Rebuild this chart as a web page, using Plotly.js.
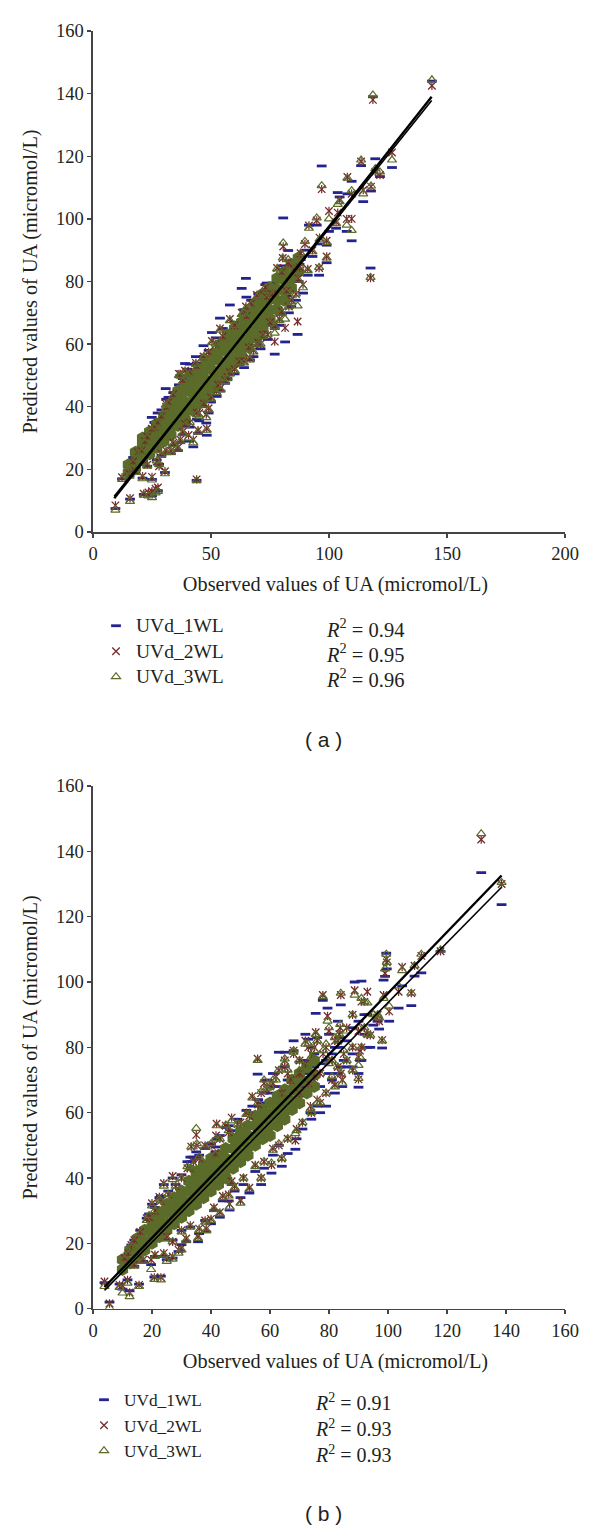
<!DOCTYPE html>
<html><head><meta charset="utf-8">
<script src="https://cdn.plot.ly/plotly-3.0.1.min.js"></script>
<style>html,body{margin:0;padding:0;background:#fff}#c{width:600px;height:1529px}
.legendtext{font-size:19.5px !important}
.xtitle,.x2title{transform:translateX(6.5px)}
</style>
</head><body><div id="c"></div>
<script>
// Panel (a): observed value and predictions of each model
const obsA=[9.5,15.7,21.5,23.5,25,26.5,27.5,43.9,12.3,15.5,
21,25,30.5,28,27,33,36,37,38,40.5,
42.5,44.5,48.2,48,45,49,52.4,53,56,58,
62,66.5,66,70,72,77,81.4,86.7,75,80,
84,82,89,87,95.8,91,99,93,99,96,
109.6,107.5,103,100,94.8,91.5,96.9,103.7,104.5,107.8,
109.6,114.5,117.8,113.6,119.6,121.6,126.7,117.6,118.6,143.6,
80.6,82.7,87.5,85,64.8,63,65,69.4,73.6,76,
80,78,80.4,89.8,88,58,53.8,50.4,46.8,43.6,
41,39,37,36.4,30.8,31,27.4,24.9,22,20.6,17,
19,23,26,29,32,34,38,40,44,47,49,52,55,60,64,67,70,73,
18,23,29,31,34,39,41,44,47,50,54,57,60,64,68,71,74,77,79,83,86];
const uv1A=[7.5,10.5,12,12,11.5,13,13.2,16.5,17,18,
17.2,16.8,19,21.6,23,25,26,28.5,31,29,
27.2,31.5,30.9,34.8,35.5,38,43.3,46,47.5,50.2,
53.5,55,58,59.5,62,56.8,60.7,63.1,66,69.5,
72,75.5,76.3,80,82,82,86,88,91.6,92,
93,96,97,96,98,98,116.9,108.4,107,108,
112,105.5,108.9,117,119.2,113.5,116.4,84.3,139,144,
100.3,89.9,85.5,80,81,77.8,75,73,79.5,79.5,
80,81,85,90,87,72.5,68.3,63.7,59.5,56,
53.6,53.8,50,47,45.8,42.4,38,36.6,30.1,27.2,23.8,
26,31,35,39,43,44.5,49,52,54,56,58,62,65,67,71,74,76,79,
19,21,24.5,25,27.5,34,33.5,36,40,41.5,45,49,50.5,52.5,56,58.5,61.5,65,66,70,74];
const uv2A=[8.5,10.8,12.2,12.6,13,13.8,14.2,16.8,17.5,18.6,
17.8,17.6,19.4,21,22.5,26,27,29.5,32,31,
29.5,32.5,33,37.5,38,39.5,45,47,48.5,51,
54.5,55.5,59,60.5,63,60.8,65.2,67.2,67,70.5,
74,77,79,81,84.3,84,88,90,93,94,
100,100,99,102.5,99.5,97.9,109.5,102,106,113.4,
108,109.2,110.3,118.3,115,114,121.2,81.1,138,142.5,
91.2,86,84.5,84,72,70,69,75.7,75,76,
83,84.3,87.5,92,89,68,65,61,56,54,
51,51.5,50.5,50.5,41,40,35,33,29,26,22.5,
25.5,30.5,33.5,37,41.5,44,48.5,50.5,53,56,57.5,60,62.5,66,70,73,75.5,78,
19.5,21.5,25,26,28.5,34.5,35,38,41,43,46,49.5,52,54.5,58,60,63,66,68,72,76];
const uv3A=[7,9.8,11.8,11.5,11,12.5,13,16.4,16.8,17.8,
17,16.6,18.6,21.5,22.7,25.5,26.5,29,31.5,30,
28.5,32,32.5,36.5,37,39,44.5,46.5,48,50.5,
54,55,58.5,60,62.5,63.5,68,72.2,66.5,70,
73.5,76.5,78,80.5,84.5,83.5,87.5,89.5,92.5,93.5,
96.3,98,98.5,100,100.3,97,110.6,104.6,105.5,113,
109,108,110.5,118.8,116,115,118.8,81.3,139.6,144.4,
92.3,87,85,83.5,71.5,69.5,68.5,75,74.5,75.5,
82.5,84,87.5,92.8,89,67.5,64.5,60.5,55.5,53.5,
50.5,51,49.8,50,40.5,39.5,34.8,32.5,28.5,25.5,22,
25,30,33.5,36.5,41,43.5,48,50,52.5,56,57,60,62,66,70,72.5,75.5,78,
19,21,24.5,25.5,28,34,35,37.5,40.5,42.5,45.5,49,51.5,54,57.5,60,63,65.5,67.5,72,76];
// Panel (a): heavily overplotted olive core of the cloud
const coreObsA=[15,15,18,18,18,21,21,21,21,24,24,24,24,27,27,27,27,30,30,30,30,
33,33,33,33,33,36,36,36,36,36,39,39,39,39,39,42,42,42,42,42,45,45,45,45,45,
48,48,48,48,48,51,51,51,51,51,54,54,54,54,54,57,57,57,57,57,60,60,60,60,60,
63,63,63,63,63,66,66,66,66,66,69,69,69,69,69,72,72,72,72,72,75,75,75,75,
78,78,78,78,81,81,81,81,84,84,84,87,87];
const corePredA=[19,21.5,20.5,22.5,25.5,23,25,28,30,25,27,30,32,27,29.5,32,34.5,29,31.5,34.5,37,
31,33.5,36,39,41,34,36.5,39.5,43,45,36,38.5,41.5,45,47,39,41.5,44.5,48,50,41,43.5,46.5,50,52,
43,45.5,48.5,52,54,46,48.5,51.5,55,57,49,51.5,54.5,58,60,52,54.5,57.5,61,63,54,56.5,59.5,63,65,
56,58.5,61.5,65,67,59,61.5,64.5,68,70,62,64.5,67.5,71,73,65,67.5,70.5,74,76,68,71,74.5,78,
71,74,77.5,81,74,77,80.5,83,78,81,85.5,83,87.5];
const fitObsA=[9,143.5];
const fitThickA=[10.8,139];
const fitThinA=[11.4,137.8];

// Panel (b)
const obsB=[5.6,3.9,9,10,11.7,12.4,15.6,20.8,23,19.7,
25,27,29,30,10.7,13,12,18.2,20,24,
27,22.5,33.3,35,35.2,41.9,45,33,34,41.7,
41.5,47,50,52,55.8,58,57,54,57,60.5,
64,68.6,73.7,76,82,84.5,90,46.3,50,53,
38.4,35.6,31.6,25,40,43,46,48,131.6,138.5,
117.8,111.3,104.8,109,99.4,99.6,99,98.5,107.9,103.6,
100.4,77.9,84,88.7,91,93,79.5,75.5,72,68,
65,74,98,94,97,95,90,90.5,83.5,83.8,
88,92,96.5,85,80,78,70,72,75,66,62,60,
14,16,19,21,23,25.5,28,30,32,36,38,40,43,46,49,53,56,59,61,63,65,68,70,73,76,
14,17,21,24,27,30,33,36,38,41,44,47,51,55,58,61,63,66,69,71,74,77,79,81,83,86,88,91,93,
64,67,70,73,75,77,79,81,82,84,86,88,80,83,92,90];
const uv1B=[2,8,7.5,6,8.8,5.5,7.5,9.7,10,13.5,
15,15.5,17.5,19.6,15.5,19.5,17,27.7,32,38,
40,34,45,48,46,52,55.5,46.4,46.4,49.5,
48,54.5,55,60.7,71.8,66,63,62,38,41.5,
43.6,48.8,60,62,66,68,67.8,30.2,34,35.4,
23.5,20.5,20.5,21,26,28,33,36,133.5,123.7,
109.4,102.8,98.8,101.8,108.8,104,101.7,100.6,92.8,92,
88,94.4,93,100,100.3,90,92,90.4,84,82,
78.5,80,79.8,80,85.6,86.8,72,76,80,83,
86,90,88,76,72,75,68,76,78,70,68,66,
21,24,29,31,34.5,36,38,41,45,47,49,50.5,53,56,58,60,64,70,72,78.5,74,79,75.5,82.5,83,
13,14.5,16,16,21,24,25,23,27,30,33,38,38,42,43,47,50,47.5,52,55,58,60,62,70,72,74,78,76,80,
62,66,70,72,74,68,76,78,80,74,82,74,84,88,84,88];
const uv2B=[1.6,8.3,7.3,7,8.8,5,7.3,9.6,9.6,15,
15.5,16,18,18.5,15.5,19.5,17,27.7,32.3,38.4,
40.6,34.2,49.6,53.2,50,56.6,56,43,45,53,
47.5,58.5,57,60,76.5,69,66,65,40,44,
46,51.5,62,64,68.5,70,70.2,32,33,37,
24.5,22,21.5,22,27.5,29.5,35,37.5,143.6,130,
109.4,108,104.6,105,107,106,102.7,96,96.6,97,
91,96,96,97.5,94,97,89.6,84.6,82,78,
74,78,82.2,83.7,88,89,77,79,84,86,
90,94,90,78,76,78,72,75,80,72,71,68,
21,23.5,28,30,33,35,37.5,40,43,46,50,50,52,54,56.5,59,62.5,67,69,73,76,79,76,80,82,
13.5,15,16.5,17,20.5,24,25.5,24.5,27,31,34.5,39,40,44,45,49,50,52,55,57,60,63,66,70,74,76,80,80,84,
66,70,66,69,71,72,80,76,82,72,86,73,85,82,86,85];
const uv3B=[0.3,6.8,6.5,4.8,7.8,3.7,6.8,9,8.8,12,
14.5,15.2,17,18,15,18.5,16.5,27,31.5,37.5,
39.5,33.5,49.5,55.2,50.5,56,56.2,43,44,52,
47,57.5,56,59.5,76,70,66.5,64.5,40,44.6,
46,53.6,61,63,67.9,69,70.5,31,32.3,36.5,
24,21.5,21,21.5,27,29,34.5,37,145.4,130.5,
109.8,108.5,103.5,105,108.5,106,104,95,96.6,98.8,
92.6,95.5,96.6,96,95,93.6,88,84,81,79,
75,77,82,83.7,89,90,74.5,77,84,87,
90,94,90,79,75,79,73,74,79,73,70,68,
20.5,23,28.5,30,33,35,37.5,40,43.5,46.5,49.5,50.5,52,54.5,56.5,59.5,63,67.5,70,73,76.5,78.5,76,81,82,
13,14.5,16,16.5,20.5,23.5,25,24,26.5,30.5,34,38.5,40,43.5,45,48.5,50.5,52,54.5,57,60,63,66,71,74,76,80,80,84,
65,70,66,69,71,72,81,76,83,72,85,73,86,82,86,86];
const coreObsB=[10,10,12.5,12.5,15,15,15,17.5,17.5,17.5,20,20,20,20,22.5,22.5,22.5,22.5,25,25,25,25,27.5,27.5,27.5,27.5,
30,30,30,30,32.5,32.5,32.5,32.5,35,35,35,35,35,37.5,37.5,37.5,37.5,37.5,40,40,40,40,40,42.5,42.5,42.5,42.5,42.5,
45,45,45,45,47.5,47.5,47.5,47.5,50,50,50,50,52.5,52.5,52.5,52.5,55,55,55,55,57.5,57.5,57.5,57.5,
60,60,60,60,62.5,62.5,62.5,62.5,65,65,65,65,67.5,67.5,67.5,67.5,70,70,70,70,72.5,72.5,72.5,75,75,75];
const corePredB=[12,15,14,18,15.5,18.5,21.5,18,20.5,24,20,22,25,27.5,22,24,27,29.5,24,26,29.5,32,26,28.5,31.5,34,
28,30.5,33.5,36,30,32.5,36,39,32,34.5,37.5,40,42,34,36.5,39.5,42,44,36,38.5,41.5,44,46,38,40,43,45.5,47,
40,42.5,46,49,43,45.5,49,52,45,47.5,51,54,47,49.5,53,56,50,52.5,56,59,52,54.5,58,61,
53,56,59.5,63,56,58.5,62,65,58,60.5,64,67,61,63.5,67,70,63,66,69.5,72,66,69.5,74,68,71.5,76];
const fitObsB=[3.9,138.5];
const fitThickB=[6.6,132.6];
const fitThinB=[5.6,129];

const seriesNames=['UVd_1WL','UVd_2WL','UVd_3WL'];
const r2A=['0.94','0.95','0.96'];
const r2B=['0.91','0.93','0.93'];
const xTicksA=[0,50,100,150,200];
const xTicksB=[0,20,40,60,80,100,120,140,160];
const yTicks=[0,20,40,60,80,100,120,140,160];

const W=600,H=1529;
const SERIF='"Liberation Serif", serif';
const BLUE='#23238f',RED='#752b2b',OLIVE='#5a6b2a',TEXT='#231f20';
const px=v=>v/W, py=v=>1-v/H;

function panel(xa,ya,legend,obs,u1,u2,u3,cx,cy,fx,thick,thin){
  const ax={xaxis:xa,yaxis:ya};
  return [
   {...ax,x:obs,y:u1,mode:'markers',type:'scatter',name:seriesNames[0],legend,legendgroup:legend+'1',
    marker:{symbol:'line-ew-open',size:7,line:{width:2.8,color:BLUE},color:BLUE}},
   {...ax,x:cx,y:cy,mode:'markers',type:'scatter',showlegend:false,hoverinfo:'skip',
    marker:{symbol:'hexagon',size:13,color:OLIVE,line:{width:0}}},
   {...ax,x:obs,y:u2,mode:'markers',type:'scatter',name:seriesNames[1],legend,legendgroup:legend+'2',
    marker:{symbol:'x-thin-open',size:7.5,line:{width:1.3,color:RED},color:RED}},
   {...ax,x:obs,y:u2,mode:'markers',type:'scatter',showlegend:false,hoverinfo:'skip',
    marker:{symbol:'line-ns-open',size:6,line:{width:1.2,color:RED},color:RED}},
   {...ax,x:obs,y:u3,mode:'markers',type:'scatter',name:seriesNames[2],legend,legendgroup:legend+'3',
    marker:{symbol:'triangle-up-open',size:8,line:{width:1.2,color:OLIVE},color:OLIVE}},
   {...ax,x:fx,y:thin,mode:'lines',type:'scatter',showlegend:false,line:{color:'#000',width:1.6}},
   {...ax,x:fx,y:thick,mode:'lines',type:'scatter',showlegend:false,line:{color:'#000',width:2.4}}
  ];
}
const data=[...panel('x','y','legend',obsA,uv1A,uv2A,uv3A,coreObsA,corePredA,fitObsA,fitThickA,fitThinA),
            ...panel('x2','y2','legend2',obsB,uv1B,uv2B,uv3B,coreObsB,corePredB,fitObsB,fitThickB,fitThinB)];

const tickFont={family:SERIF,size:18.5,color:TEXT};
const titleFont={family:SERIF,size:20.3,color:TEXT};
function xAxis(range,ticks,anchor){return {
  domain:[px(93),px(565)],range,anchor,tickmode:'array',tickvals:ticks,ticktext:ticks.map(String),
  ticks:'outside',ticklen:4,tickwidth:1.3,tickcolor:'#444',showline:true,linecolor:'#444',linewidth:1.6,
  showgrid:false,zeroline:false,tickfont:tickFont,
  title:{text:'Observed values of UA (micromol/L)',font:titleFont,standoff:14}};}
function yAxis(top,bottom,anchor){return {
  domain:[py(bottom),py(top)],range:[0,160],anchor,tickmode:'array',tickvals:yTicks,ticktext:yTicks.map(String),
  ticks:'outside',ticklen:4,tickwidth:1.3,tickcolor:'#444',showline:true,linecolor:'#444',linewidth:1.6,
  showgrid:false,zeroline:false,tickfont:tickFont,
  title:{text:'Predicted values of UA (micromol/L)',font:titleFont,standoff:13}};}
function legendAt(x,y){return {x:px(x),y:py(y),xanchor:'left',yanchor:'top',bgcolor:'rgba(0,0,0,0)',
  font:{family:SERIF,size:17.3,color:TEXT},tracegroupgap:0,itemwidth:30,borderwidth:0,traceorder:'normal'};}
const ann=[];
[[r2A,[628,653,678],324,20.5],[r2B,[1402,1428,1453.5],313,20]].forEach(([vals,ys,x,s])=>vals.forEach((v,i)=>ann.push({
  xref:'paper',yref:'paper',x:px(x),y:py(ys[i]),xanchor:'left',yanchor:'middle',showarrow:false,
  text:'<i>R</i><sup>2</sup>\u00a0=\u00a0'+v,font:{family:SERIF,size:s,color:TEXT}})));
[['( a )',323,739],['( b )',323.5,1513]].forEach(([t,x,y])=>ann.push({xref:'paper',yref:'paper',x:px(x),y:py(y),
  xanchor:'center',yanchor:'middle',showarrow:false,text:t,font:{family:'"Liberation Sans", sans-serif',size:21,color:TEXT}}));

const layout={width:W,height:H,margin:{l:0,r:0,t:0,b:0},paper_bgcolor:'#fff',plot_bgcolor:'rgba(0,0,0,0)',
  xaxis:xAxis([0,200],xTicksA,'y'),yaxis:yAxis(31,532,'x'),
  xaxis2:xAxis([0,160],xTicksB,'y2'),yaxis2:yAxis(786,1308.7,'x2'),
  legend:legendAt(96,608),legend2:legendAt(84,1382),annotations:ann,showlegend:true};
Plotly.newPlot('c',data,layout,{displayModeBar:false,staticPlot:true});
</script></body></html>
